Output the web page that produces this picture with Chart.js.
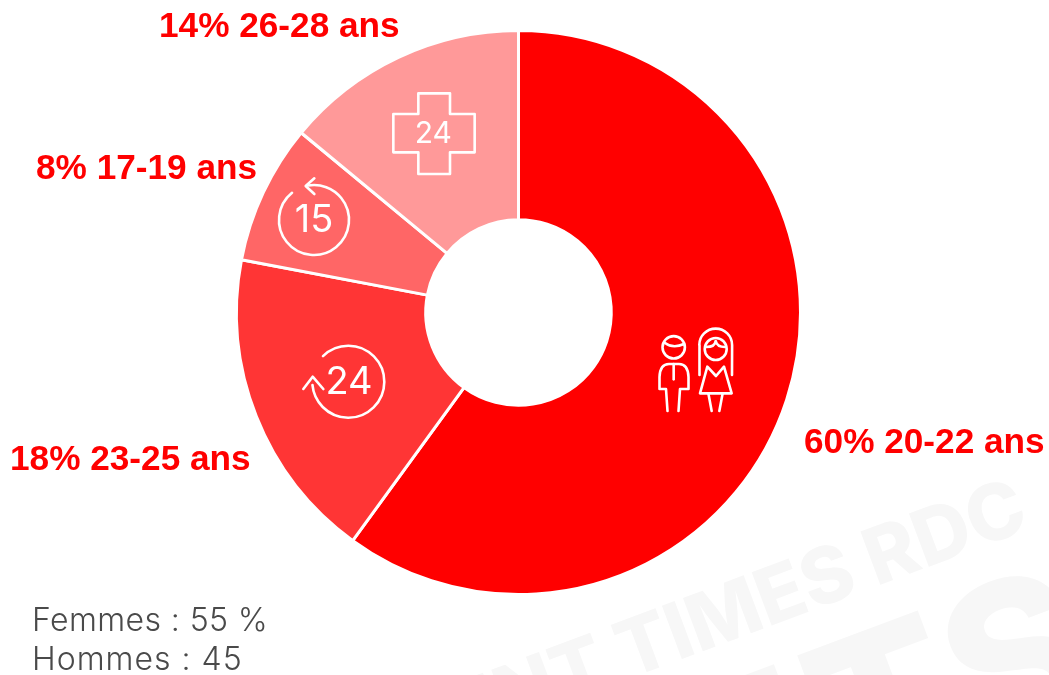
<!DOCTYPE html>
<html lang="fr">
<head>
    <meta charset="UTF-8">
    <title>Répartition par âge</title>
    <script src="https://cdn.jsdelivr.net/npm/chart.js"></script>
    <style>
        html, body { margin: 0; padding: 0; background: #fff; overflow: hidden; }
        #wrap { position: relative; width: 1049px; height: 675px; }
        .genre { position: absolute; left: 32px; font: 300 32px "Inter", sans-serif; letter-spacing: 0.4px; color: #4a4a4a; white-space: nowrap; }
    </style>
</head>
<body>
    <div id="wrap">
        <canvas id="ageChart" width="1049" height="675"></canvas>
        <div class="genre" style="top: 600px;">Femmes : 55 %</div>
        <div class="genre" style="top: 639px; letter-spacing: 1px;">Hommes : 45</div>
    </div>

    <script>
        const categories = ['20-22 ans', '23-25 ans', '17-19 ans', '26-28 ans'];
        const shares = [60, 18, 8, 14];
        const colors = ['#ff0000', '#ff3535', '#ff6666', '#ff9999'];
        // position des etiquettes (gauche du texte, ligne de base)
        const labelPos = [[804, 453], [10, 470], [36, 179], [159, 37]];

        // filigrane en arriere plan
        const watermark = {
            id: 'watermark',
            beforeDraw(chart) {
                const c = chart.ctx;
                c.save();
                c.fillStyle = '#f7f7f7';
                c.textBaseline = 'alphabetic';
                c.translate(1026, 524);
                c.rotate(-20.5 * Math.PI / 180);
                c.textAlign = 'right';
                c.font = '800 78px "Inter", sans-serif';
                c.fillText('INT TIMES RDC', 4, 6);
                c.font = '800 210px "Inter", sans-serif';
                c.fillText('E', -275, 196);
                c.textAlign = 'left';
                c.fillText('TS', -267, 196);
                c.restore();
            }
        };

        // trace une liste de points lus sur un zoom x3
        function poly(c, ox, oy, pts, close) {
            c.beginPath();
            pts.forEach((p, i) => {
                const x = ox + p[0] / 3, y = oy + p[1] / 3;
                if (i === 0) c.moveTo(x, y); else c.lineTo(x, y);
            });
            if (close) c.closePath();
            c.stroke();
        }

        const icons = {
            id: 'icons',
            afterDatasetsDraw(chart) {
                const c = chart.ctx;
                c.save();
                c.strokeStyle = '#fff';
                c.fillStyle = '#fff';
                c.lineWidth = 2.6;
                c.lineJoin = 'round';
                c.lineCap = 'round';

                // couple
                const ox = 620, oy = 300;
                c.beginPath(); c.arc(673.7, 347.3, 11.2, 0, Math.PI * 2); c.stroke();
                c.beginPath(); c.moveTo(665, 343); c.quadraticCurveTo(673, 349, 684, 344); c.stroke();
                c.beginPath();
                c.moveTo(659.5, 389); c.lineTo(659.5, 377);
                c.quadraticCurveTo(660, 364, 669, 364);
                c.lineTo(679, 364);
                c.quadraticCurveTo(688, 364, 688.5, 377);
                c.lineTo(688.5, 389); c.lineTo(680, 389); c.lineTo(678.5, 411);
                c.moveTo(667.5, 411); c.lineTo(666, 389); c.lineTo(659.5, 389);
                c.stroke();
                poly(c, ox, oy, [[161, 192], [161, 238]]);
                c.beginPath();
                c.moveTo(699.5, 375);
                c.lineTo(699.5, 345);
                c.arc(715.7, 345, 16.4, Math.PI, 0);
                c.lineTo(732, 375);
                c.stroke();
                c.beginPath(); c.arc(715.7, 349, 11, 0, Math.PI * 2); c.stroke();
                c.beginPath(); c.moveTo(706, 347); c.quadraticCurveTo(715, 347, 715.7, 341); c.quadraticCurveTo(717, 347, 725, 347); c.stroke();
                poly(c, ox, oy, [[240, 280], [262, 200], [288, 228], [312, 200], [335, 280], [240, 280]]);
                poly(c, ox, oy, [[265, 280], [275, 333]]);
                poly(c, ox, oy, [[308, 280], [298, 333]]);

                // croix 24
                poly(c, 270, 80, [[445, 40], [540, 40], [540, 102], [614, 102], [614, 217], [540, 217], [540, 282], [445, 282], [445, 217], [370, 217], [370, 102], [445, 102]], true);

                // retour 15
                c.beginPath();
                c.arc(314, 220, 35, -2.25, -1.75, true);
                c.stroke();
                poly(c, 270, 80, [[133, 295], [107, 318], [133, 342]]);

                // retour 24
                c.beginPath();
                c.arc(348.3, 381.7, 36, -2.35, 3.05);
                c.stroke();
                poly(c, 280, 330, [[70, 177], [98, 140], [130, 177]]);

                c.textAlign = 'center';
                c.textBaseline = 'middle';
                c.font = '400 30px "Inter", sans-serif';
                c.fillText('24', 433.3, 134);
                c.font = '400 38px "Inter", sans-serif';
                c.fillText('15', 314, 221);
                c.fillText('24', 349, 383);
                c.restore();
            }
        };

        // etiquettes : part + tranche d'age
        const sliceLabels = {
            id: 'sliceLabels',
            afterDraw(chart) {
                const c = chart.ctx;
                c.save();
                c.fillStyle = '#ff0000';
                c.font = 'bold 35.2px "Liberation Sans", Arial, sans-serif';
                c.textBaseline = 'alphabetic';
                categories.forEach((cat, i) => {
                    c.fillText(`${shares[i]}% ${cat}`, labelPos[i][0], labelPos[i][1]);
                });
                c.restore();
            }
        };

        new Chart(document.getElementById('ageChart'), {
            type: 'doughnut',
            data: {
                labels: categories,
                datasets: [{
                    data: shares,
                    backgroundColor: colors,
                    borderColor: '#fff',
                    borderWidth: 3,
                    borderAlign: 'center'
                }]
            },
            options: {
                responsive: false,
                animation: false,
                cutout: '32.9%',
                layout: { padding: { top: 29, bottom: 79, left: 0, right: 12 } },
                plugins: {
                    legend: { display: false },
                    tooltip: { enabled: false }
                }
            },
            plugins: [watermark, icons, sliceLabels]
        });
    </script>
</body>
</html>
